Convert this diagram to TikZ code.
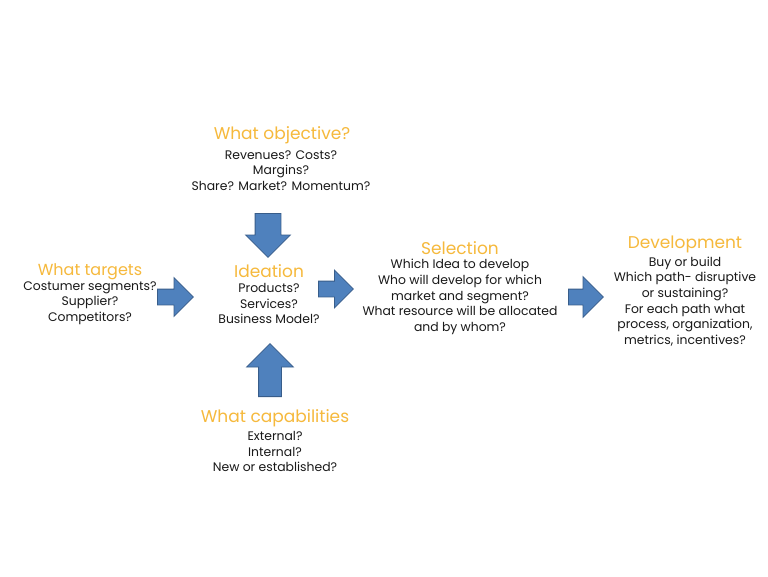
\documentclass[tikz,border=0pt]{standalone}
\usepackage{fontspec}
\setmainfont{Poppins}
\usetikzlibrary{shapes.arrows}
\definecolor{ttl}{RGB}{246,185,60}
\definecolor{txt}{RGB}{25,25,25}
\definecolor{afill}{RGB}{79,129,189}
\definecolor{aline}{RGB}{56,93,138}
\tikzset{
  ttlnode/.style={text=ttl, font=\fontsize{17}{20}\selectfont, inner sep=0pt, anchor=center},
  bodynode/.style={text=txt, font=\fontsize{12.4}{15.6}\selectfont, align=center, inner sep=0pt, anchor=center},
  blockarrow/.style={single arrow, fill=afill, draw=aline, line width=0.8pt, anchor=tail,
    inner xsep=0pt, single arrow head indent=0pt, single arrow tip angle=90},
}
\begin{document}
\begin{tikzpicture}[x=1pt,y=-1pt]
\useasboundingbox (0,0) rectangle (768,576);
\fill[white] (0,0) rectangle (768,576);

% objective
\node[ttlnode] (objT) at (282,135) {What objective?};
\node[bodynode] (objB) at (281,170.5) {Revenues? Costs?\\Margins?\\Share? Market? Momentum?};

% targets
\node[ttlnode, font=\fontsize{16}{19}\selectfont] (tgtT) at (90,272) {What targets};
\node[bodynode] (tgtB) at (90,303) {Costumer segments?\\Supplier?\\Competitors?};

% ideation
\node[ttlnode] (ideT) at (269,271) {Ideation};
\node[bodynode] (ideB) at (269,303.5) {Products?\\Services?\\Business Model?};

% capabilities
\node[ttlnode] (capT) at (275,418) {What capabilities};
\node[bodynode] (capB) at (275,451.5) {External?\\Internal?\\New or established?};

% selection
\node[ttlnode] (selT) at (460,248) {Selection};
\node[bodynode] (selB) at (460,297) {Which Idea to develop\\Who will develop for which\\market and segment?\\What resource will be allocated\\and by whom?};

% development
\node[ttlnode] (devT) at (685,244) {Development};
\node[bodynode] (devB) at (685,301.5) {Buy or build\\Which path- disruptive\\or sustaining?\\For each path what\\process, organization,\\metrics, incentives?};

% arrows
\node[blockarrow, rotate=-90, inner ysep=12.5pt, minimum height=44pt,
  single arrow head extend=9.5pt] (aDown) at (268,213) {};
\node[blockarrow, rotate=90, inner ysep=11pt, minimum height=53pt,
  single arrow head extend=12pt] (aUp) at (270,397) {};
\node[blockarrow, inner ysep=7.5pt, minimum height=36pt,
  single arrow head extend=11.5pt] (aL) at (157,297) {};
\node[blockarrow, inner ysep=7.5pt, minimum height=35pt,
  single arrow head extend=11pt] (aM) at (318,289) {};
\node[blockarrow, inner ysep=7.5pt, minimum height=35pt,
  single arrow head extend=12.5pt] (aR) at (568,297) {};
\end{tikzpicture}
\end{document}
